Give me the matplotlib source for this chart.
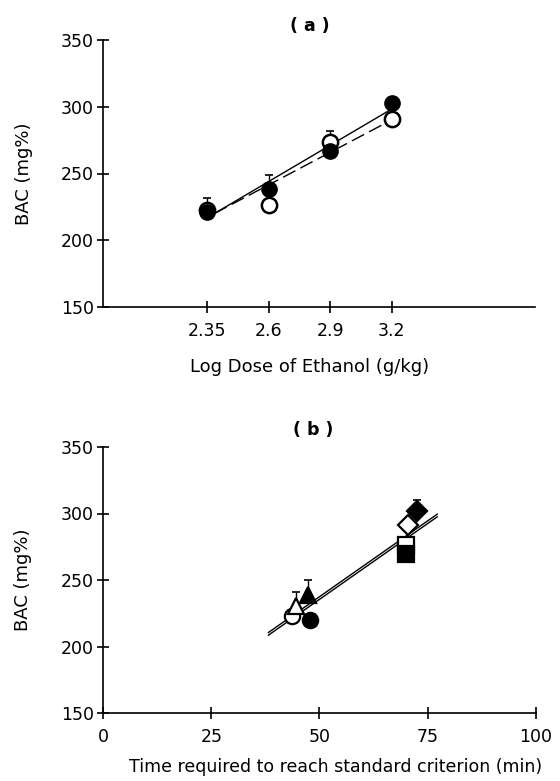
import numpy as np
import matplotlib
matplotlib.use("Agg")
import matplotlib.pyplot as plt

# Panel (a): BAC vs log dose
dose_labels = ["2.35", "2.6", "2.9", "3.2"]
bac_filled_a = [221, 238.6, 267, 302.7]
bac_open_a = [223, 226.7, 273.8, 291]
err_filled_a = [11, 10.5, 0, 0]
err_open_a = [0, 0, 8, 0]
fit_x_a = [0.12, 2.95]
fit_filled_a = [220, 297]
fit_open_a = [220, 289]

# Panel (b): BAC vs time to criterion
time_b = [43.6, 47.7, 44.6, 47.3, 70.1, 70.1, 70.5, 72.6]
bac_b = [222.8, 220.3, 230.3, 238.5, 276, 269.7, 291.6, 302]
err_b = [0, 0, 11, 11.5, 0, 0, 0, 8]
markers_b = ["o", "o", "^", "^", "s", "s", "D", "D"]
filled_b = [False, True, False, True, False, True, False, True]
fit_x_b = [38.2, 77.2]
fit1_b = [210.5, 299.5]
fit2_b = [208.5, 297.5]

plt.rcParams["font.family"] = "DejaVu Sans"
fig = plt.figure(figsize=(5.6, 7.81), dpi=100)

ax1 = fig.add_axes([0.184, 1 - 307 / 781, 0.771, 267 / 781])
ax2 = fig.add_axes([0.184, 1 - 713 / 781, 0.773, 266 / 781])

for ax in (ax1, ax2):
    for s in ("top", "right"):
        ax.spines[s].set_visible(False)
    ax.spines["left"].set_linewidth(1.2)
    ax.spines["bottom"].set_linewidth(1.2)
    ax.tick_params(direction="inout", length=9, width=1.2, labelsize=12.5)
    ax.tick_params(axis="x", pad=6)
    ax.tick_params(axis="y", pad=2)
    ax.set_ylim(150, 350)
    ax.set_yticks([150, 200, 250, 300, 350])
    ax.set_ylabel("BAC (mg%)", fontsize=13)
    ax.yaxis.set_label_coords(-0.163, 0.5)

# ---- panel a
idx = np.arange(len(dose_labels))
ax1.plot(fit_x_a, fit_filled_a, color="black", lw=1.0)
ax1.plot(fit_x_a, fit_open_a, color="black", lw=1.0, dashes=(10, 4))
ax1.errorbar(idx, bac_filled_a, yerr=[np.zeros(4), err_filled_a], fmt="none",
             ecolor="black", elinewidth=1, capsize=3, capthick=1.2)
ax1.errorbar(idx, bac_open_a, yerr=[np.zeros(4), err_open_a], fmt="none",
             ecolor="black", elinewidth=1, capsize=3, capthick=1.2)
ax1.plot(idx, bac_open_a, "o", ms=11, mfc="white", mec="black", mew=1.8, ls="none")
ax1.plot(idx, bac_filled_a, "o", ms=11, mfc="black", mec="black", ls="none")
ax1.set_xlim(-1.686, 5.32)
ax1.set_xticks(idx)
ax1.set_xticklabels(dose_labels)
fig.text(0.553, 1 - 26 / 781, "( a )", ha="center", va="center", fontsize=12.5, fontweight="bold")
fig.text(0.553, 1 - 367 / 781, "Log Dose of Ethanol (g/kg)", ha="center", va="center", fontsize=13)

# ---- panel b
ax2.plot(fit_x_b, fit1_b, color="black", lw=1.0)
ax2.plot(fit_x_b, fit2_b, color="black", lw=1.0)
for t, b, e, m, f in zip(time_b, bac_b, err_b, markers_b, filled_b):
    if e > 0:
        ax2.errorbar([t], [b], yerr=[[0], [e]], fmt="none", ecolor="black",
                     elinewidth=1, capsize=3, capthick=1.2)
    ms = 10 if m == "D" else 11
    ax2.plot([t], [b], m, ms=ms, mfc="black" if f else "white", mec="black",
             mew=1.6, ls="none")
ax2.set_xlim(0, 100)
ax2.set_xticks([0, 25, 50, 75, 100])
fig.text(0.56, 1 - 430 / 781, "( b )", ha="center", va="center", fontsize=12.5, fontweight="bold")
fig.text(0.6, 1 - 767 / 781, "Time required to reach standard criterion (min)", ha="center",
         va="center", fontsize=12.5)

fig.savefig("out.png", dpi=100)
